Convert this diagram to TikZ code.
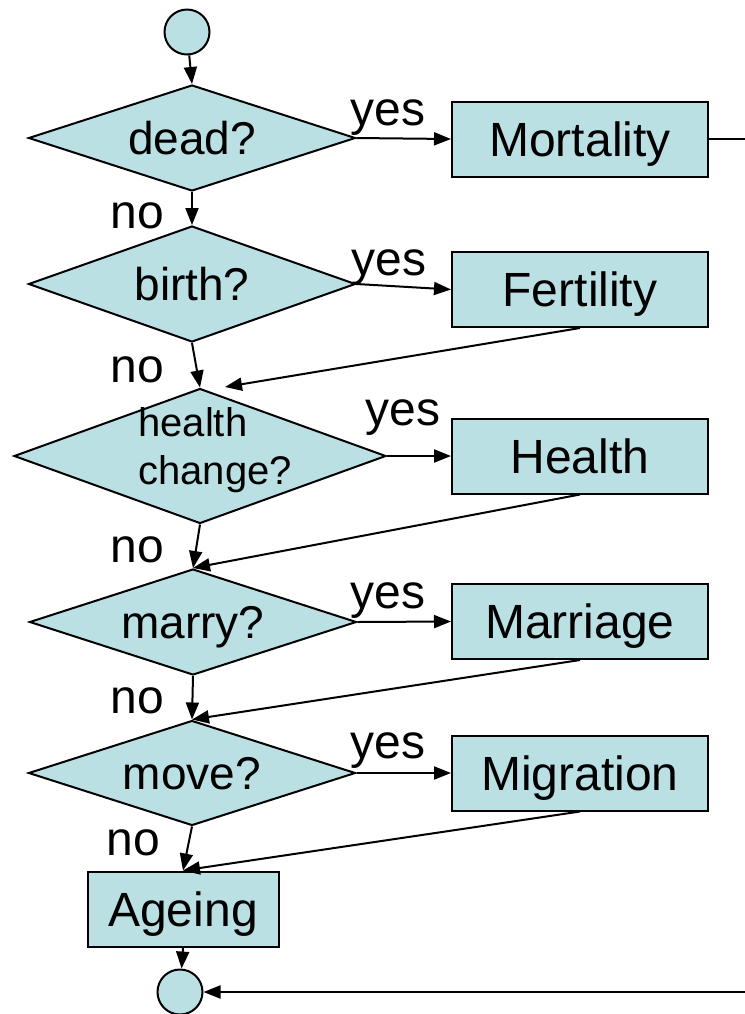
\documentclass[tikz,border=0pt]{standalone}
\usepackage{fontspec}
\setmainfont{Liberation Sans}
\usetikzlibrary{arrows.meta, shapes.geometric}
\usepackage{xcolor}
\definecolor{flowfill}{RGB}{187,224,228}
\tikzset{
  decision/.style = {diamond, aspect=3.1, draw=black, fill=flowfill, line width=1pt,
                     inner sep=0pt, text height=16.6pt, text depth=0pt,
                     font=\fontsize{23}{27}\selectfont},
  process/.style  = {rectangle, draw=black, fill=flowfill, line width=1pt,
                     minimum width=128pt, minimum height=37.5pt, inner sep=0pt,
                     text height=17.3pt, text depth=0pt,
                     font=\fontsize{24}{28}\selectfont},
  terminal/.style = {circle, draw=black, fill=flowfill, line width=1pt,
                     minimum size=22.5pt, inner sep=0pt},
  arrow/.style    = {-{Triangle[length=8.5pt, width=6.5pt]}, line width=1pt},
  answer/.style   = {inner sep=0pt, anchor=base west,
                     font=\fontsize{24}{28}\selectfont},
}

\begin{document}
\begin{tikzpicture}[
    x=0.5pt, y=-0.5pt,
    plain/.style={line width=1pt}
]

\path[use as bounding box, fill=white] (0,0) rectangle (745,1014);

% decisions down the left
\node[terminal] (start) at (187,32) {};
\node[decision, minimum width=163.5pt, minimum height=53pt] (dead)   at (192,138) {dead?};
\node[decision, minimum width=163.5pt, minimum height=58pt] (birth)  at (192,284) {birth?};
\node[decision, aspect=2.76, minimum width=186pt, minimum height=67.5pt] (health) at (200,456) {};
\node[inner sep=0pt, anchor=west, align=left,
      font=\fontsize{20}{24}\selectfont] (healthtxt) at (138,450) {health\\change?};
\node[decision, minimum width=163.5pt, minimum height=53pt] (marry)  at (193,622) {marry?};
\node[decision, minimum width=163.5pt, minimum height=52.5pt] (move) at (192,773) {move?};
\node[process, minimum width=95.5pt] (ageing) at (183,909) {Ageing};
\node[terminal] (finish) at (180,992) {};

% processes on the right
\node[process] (mort)  at (580,139)   {Mortality};
\node[process] (fert)  at (580,289.5) {Fertility};
\node[process] (hlth)  at (580,456)   {Health};
\node[process] (marr)  at (580,621.5) {Marriage};
\node[process] (migr)  at (580,773)   {Migration};

\coordinate (mortout)  at (745,139);
\coordinate (finishin) at (745,992);
\coordinate (fertback) at (225,387);

% labels
\node[answer] (yesdead)   at (350,125) {yes};
\node[answer] (yesbirth)  at (351,275) {yes};
\node[answer] (yeshealth) at (365,425) {yes};
\node[answer] (yesmarry)  at (350,608) {yes};
\node[answer] (yesmove)   at (350,758) {yes};
\node[answer] (nodead)    at (110,228) {no};
\node[answer] (nobirth)   at (110,382) {no};
\node[answer] (nohealth)  at (110,562) {no};
\node[answer] (nomarry)   at (110,713) {no};
\node[answer] (nomove)    at (106,855) {no};

% main line
\draw[arrow] (start) -- (dead.north);
\draw[arrow] (dead.south) -- (birth.north);
\draw[arrow] (birth.south) -- (health.north);
\draw[arrow] (health.south) -- (marry.north);
\draw[arrow] (marry.south) -- (move.north);
\draw[arrow] (move.south) -- (ageing.north);
\draw[arrow] (ageing.south) -- (finish);

% yes branches
\draw[arrow] (dead.east) -- (mort.west);
\draw[arrow] (birth.east) -- (fert.west);
\draw[arrow] (health.east) -- (hlth.west);
\draw[arrow] (marry.east) -- (marr.west);
\draw[arrow] (move.east) -- (migr.west);

% back to the main line
\draw[arrow] (fert.south) -- (fertback);
\draw[arrow] (hlth.south) -- (marry.north);
\draw[arrow] (marr.south) -- (move.north);
\draw[arrow] (migr.south) -- (ageing.north);
\draw[plain] (mort.east) -- (mortout);
\draw[arrow] (finishin) -- (finish);

\end{tikzpicture}
\end{document}
